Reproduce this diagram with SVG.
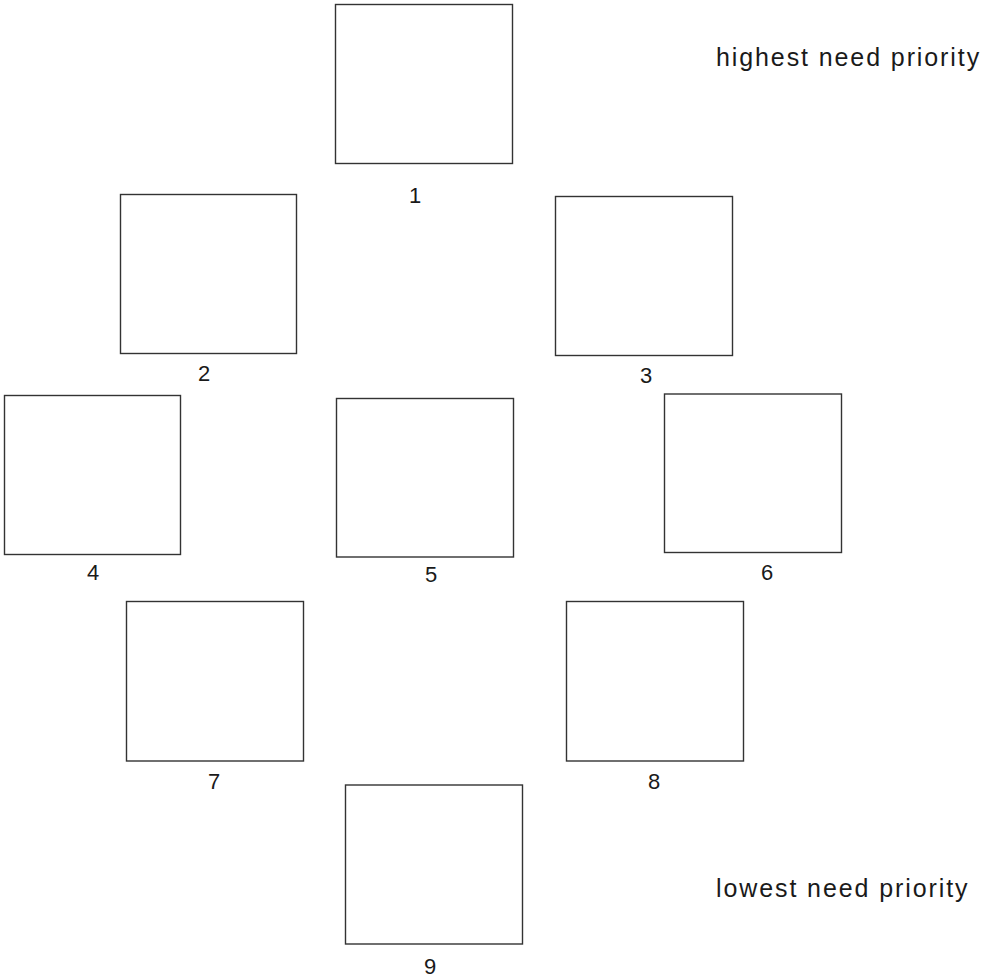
<svg xmlns="http://www.w3.org/2000/svg" width="986" height="978" viewBox="0 0 986 978">
<style>
.box{fill:#fff;stroke:#333;stroke-width:1.4}
.num{font-family:"Liberation Sans",Arial,sans-serif;font-size:22px;fill:#1a1a1a;text-anchor:middle}
.note{font-family:"Liberation Sans",Arial,sans-serif;font-size:25px;fill:#1a1a1a;letter-spacing:1.9px}
</style>
<rect width="986" height="978" fill="#fff"/>
<g id="connectors"/>
<g id="node1"><rect class="box" x="335.5" y="4.5" width="177" height="159"/><text class="num" x="415" y="203">1</text></g>
<g id="node2"><rect class="box" x="120.5" y="194.5" width="176" height="159"/><text class="num" x="204" y="381">2</text></g>
<g id="node3"><rect class="box" x="555.5" y="196.5" width="177" height="159"/><text class="num" x="646" y="383">3</text></g>
<g id="node4"><rect class="box" x="4.5" y="395.5" width="176" height="159"/><text class="num" x="93" y="580">4</text></g>
<g id="node5"><rect class="box" x="336.5" y="398.5" width="177" height="158.5"/><text class="num" x="431" y="582">5</text></g>
<g id="node6"><rect class="box" x="664.5" y="394" width="177" height="158.5"/><text class="num" x="767" y="580">6</text></g>
<g id="node7"><rect class="box" x="126.5" y="601.5" width="177" height="159.5"/><text class="num" x="214" y="789">7</text></g>
<g id="node8"><rect class="box" x="566.5" y="601.5" width="177" height="159.5"/><text class="num" x="654" y="789">8</text></g>
<g id="node9"><rect class="box" x="345.5" y="785" width="177" height="159"/><text class="num" x="430" y="974">9</text></g>
<g id="legend">
<text class="note" x="716" y="66">highest need priority</text>
<text class="note" x="716" y="897">lowest need priority</text>
</g>
</svg>
